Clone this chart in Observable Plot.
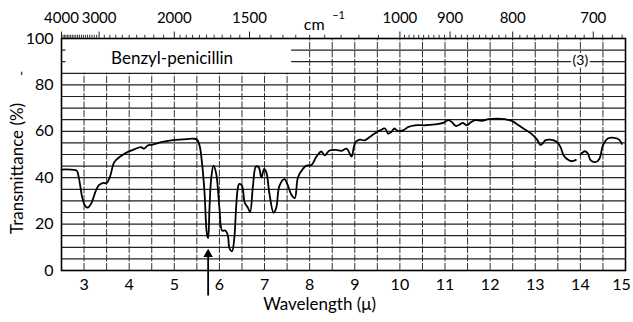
<!DOCTYPE html>
<html><head><meta charset="utf-8">
<script src="https://cdn.jsdelivr.net/npm/d3@7"></script>
<script src="https://cdn.jsdelivr.net/npm/@observablehq/plot@0.6"></script>
<style>body{margin:0;background:#fff}</style>
</head><body><div id="chart"></div>
<script>
// ---- data ----
const wavelength = [2.50,2.60,2.70,2.80,2.84,2.89,2.96,3.02,3.07,3.15,3.26,3.33,3.41,3.50,3.57,3.67,3.78,3.93,4.11,4.26,4.33,4.41,4.52,4.74,4.97,5.19,5.41,5.50,5.56,5.62,5.67,5.72,5.75,5.78,5.82,5.87,5.93,6.00,6.06,6.13,6.19,6.22,6.28,6.33,6.37,6.41,6.44,6.50,6.56,6.63,6.68,6.74,6.81,6.87,6.93,6.99,7.04,7.11,7.20,7.26,7.33,7.44,7.52,7.59,7.67,7.74,7.85,7.93,8.04,8.15,8.26,8.33,8.44,8.59,8.70,8.82,8.89,8.93,8.98,9.02,9.11,9.22,9.33,9.44,9.56,9.67,9.74,9.81,9.87,9.96,10.07,10.19,10.33,10.56,10.78,10.96,11.07,11.15,11.24,11.33,11.39,11.48,11.58,11.67,11.81,11.96,12.15,12.33,12.48,12.63,12.78,12.93,13.04,13.11,13.17,13.22,13.33,13.48,13.56,13.63,13.73,13.81,13.90,13.95,14.00,14.10,14.17,14.22,14.33,14.42,14.50,14.60,14.75,14.86,14.92];
const transmittance = [43.5,43.6,43.5,43.3,43.0,39.4,31.4,28.0,27.1,28.6,34.3,36.8,37.7,37.7,40.1,46.7,48.8,50.7,52.2,53.2,52.5,53.9,54.3,55.4,56.2,56.5,56.8,56.5,53.9,45.2,33.6,16.2,14.0,27.1,40.1,45.2,41.6,27.1,17.2,17.2,14.8,9.7,8.3,14.0,27.1,35.8,37.3,36.5,29.3,27.1,25.2,35.8,44.8,44.5,40.1,43.8,42.3,32.9,24.9,27.1,36.5,39.4,36.5,32.9,31.2,40.1,43.8,45.2,45.5,49.1,51.3,49.6,51.7,52.0,51.6,52.5,50.3,49.1,53.2,55.4,56.4,56.1,57.5,59.0,60.4,61.2,59.0,59.7,61.2,60.1,60.4,61.9,62.6,62.6,63.0,63.6,64.8,64.0,62.3,63.0,63.6,62.6,64.0,64.8,64.5,65.2,65.5,65.2,64.5,62.6,60.7,58.7,56.4,54.2,54.9,56.1,56.4,55.4,53.2,49.6,47.7,47.1,47.7,null,50.0,51.4,50.3,47.7,46.7,48.1,53.9,56.8,57.2,56.4,54.6];

const xTicks = [3,4,5,6,7,8,9,10,11,12,13,14];
const xLastTick = [15];
const yTicks = [0,20,40,60,80,100];
const wavenumberTicks = [4000,3000,2000,1500,1000,900,800,700];
const wavenumberMinor = [
  ...d3.range(3950, 3000, -50),
  ...d3.range(2900, 2000, -100),
  ...d3.range(1950, 1000, -50),
  ...d3.range(990, 665, -10)
].filter(w => !wavenumberTicks.includes(w));
const gridX = d3.range(2.5, 15.01, 0.5);
const gridY = d3.range(5, 100, 5);

const sampleName = "Benzyl-penicillin";
const sampleTag = "(3)";
const xTitle = "Wavelength (μ)";
const yTitle = "Transmittance (%)";
const boxRight = 7.6;     // label box (no grid) right edge, μ
const boxBottom = 85;     // label box bottom, %
const markedBand = 5.75;  // arrow position, μ

const spectrum = wavelength.map((x, i) => ({x, y: transmittance[i]}));

const chart = Plot.plot({
  width: 633,
  height: 322,
  marginLeft: 61,
  marginRight: 8,
  marginTop: 38,
  marginBottom: 52,
  x: {domain: [2.5, 15]},
  y: {domain: [0, 100]},
  style: {fontFamily: "Lato, 'Open Sans', sans-serif", fontSize: "16px", color: "black", background: "white"},
  marks: [
    // grid
    Plot.ruleX(gridX, {x: d => d, y1: 0, y2: d => d < boxRight ? boxBottom : 100, stroke: "#333", strokeWidth: 1, strokeDasharray: "7,1.5"}),
    Plot.ruleY(gridY, {y: d => d, x1: d => d > boxBottom ? boxRight : 2.5, x2: 15, stroke: "#222", strokeWidth: 1.2}),
    Plot.ruleY([90, 95], {y: d => d, x1: 2.5, x2: 2.6, stroke: "#222", strokeWidth: 1.2}),
    Plot.frame({stroke: "black", strokeWidth: 1.6}),
    // top wavenumber ticks
    Plot.ruleX(wavenumberMinor, {x: d => 10000 / d, y1: 100, y2: 101.4, stroke: "#222", strokeWidth: 0.9}),
    Plot.ruleX(wavenumberTicks, {x: d => 10000 / d, y1: 100, y2: 102.8, stroke: "#222", strokeWidth: 1}),
    // axes
    Plot.axisX(xTicks, {anchor: "bottom", tickSize: 0, tickPadding: 8, fontSize: 16, label: null}),
    Plot.text(xLastTick, {x: d => d, frameAnchor: "bottom", lineAnchor: "top", dy: 8, dx: -4, text: d => String(d), fontSize: 16}),
    Plot.axisY(yTicks, {anchor: "left", tickSize: 0, tickPadding: 8, fontSize: 16, label: null}),
    Plot.axisX(wavenumberTicks.map(w => 10000 / w), {anchor: "top", tickSize: 0, tickPadding: 16, fontSize: 15, label: null, tickFormat: d => String(Math.round(10000 / d))}),
    Plot.text(["cm"], {x: 8.1, frameAnchor: "top", dy: -20, text: d => d, fontSize: 16}),
    Plot.text(["−1"], {x: 8.64, frameAnchor: "top", dy: -27, text: d => d, fontSize: 11}),
    // spectrum
    Plot.line(spectrum, {x: "x", y: "y", stroke: "black", strokeWidth: 1.8, curve: "catmull-rom"}),
    // labels
    Plot.text([sampleName], {x: 4.95, y: 91.5, text: d => d, fontSize: 17}),
    Plot.text([sampleTag], {x: 14.0, y: 90.5, text: d => d, fontSize: 14, stroke: "white", strokeWidth: 4, fill: "black"}),
    // arrow
    Plot.ruleX([markedBand], {x: d => d, y1: -11, y2: 6, stroke: "black", strokeWidth: 1.8}),
    Plot.dot([markedBand], {x: d => d, y: 7, symbol: "triangle", r: 3.5, fill: "black", stroke: "none"}),
    // titles
    Plot.text([xTitle], {x: 8.22, frameAnchor: "bottom", dy: 39, text: d => d, fontSize: 17}),
    Plot.text([yTitle], {y: 44, frameAnchor: "left", textAnchor: "middle", dx: -44, rotate: -90, text: d => d, fontSize: 17}),
    Plot.text(["-"], {y: 85, frameAnchor: "left", textAnchor: "middle", dx: -40, rotate: -90, text: d => d, fontSize: 14})
  ]
});
document.getElementById("chart").append(chart);
</script>
</body></html>
